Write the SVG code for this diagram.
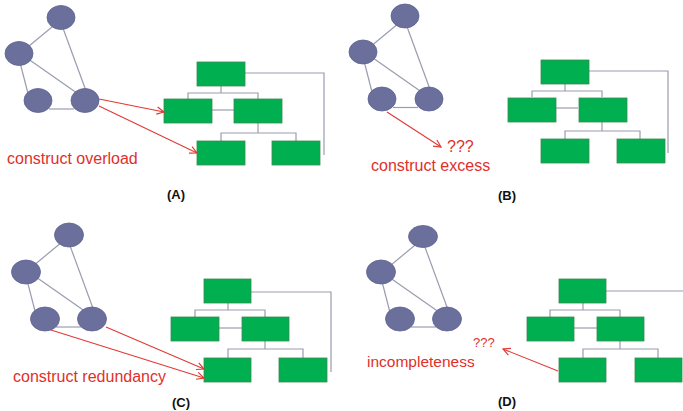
<svg xmlns="http://www.w3.org/2000/svg" width="683" height="411" viewBox="0 0 683 411">
<defs>
<style>
.n{fill:#6a6f9c;stroke:#5d6290;stroke-width:0.8}
.e{stroke:#9a9cb0;stroke-width:1.2;fill:none}
.r{fill:#00b050;stroke:#3a8a50;stroke-width:0.8}
.t{stroke:#9a9cb0;stroke-width:1.2;fill:none}
.a{stroke:#e03a34;stroke-width:1.1;fill:none;marker-end:url(#ah)}
.lbl{font-family:"Liberation Sans",Arial,sans-serif;font-size:16px;fill:#e0302a}
.cap{font-family:"Liberation Sans",Arial,sans-serif;font-size:13px;font-weight:bold;fill:#111;text-anchor:middle}
</style>
<marker id="ah" viewBox="0 0 10 10" refX="9" refY="5" markerWidth="9" markerHeight="9" markerUnits="userSpaceOnUse" orient="auto">
<polyline points="1,1 9,5 1,9" fill="none" stroke="#e03a34" stroke-width="1.3"/>
</marker>
</defs>
<rect width="683" height="411" fill="#fff"/>

<!-- Panel A -->
<g id="graphA" transform="translate(19,17.5)">
<g class="edges">
<line class="e" x1="36" y1="7" x2="7" y2="31"/>
<line class="e" x1="43" y1="8" x2="68" y2="76"/>
<line class="e" x1="1" y1="45" x2="9" y2="76"/>
<line class="e" x1="10" y1="42" x2="60" y2="77"/>
<line class="e" x1="30" y1="91.5" x2="55" y2="91.5"/>
</g>
<g id="A_T"><ellipse class="n" cx="42" cy="0" rx="14" ry="12"/></g>
<g id="A_L"><ellipse class="n" cx="0" cy="36" rx="14" ry="12"/></g>
<g id="A_BL"><ellipse class="n" cx="19" cy="83" rx="14" ry="12"/></g>
<g id="A_BR"><ellipse class="n" cx="66" cy="83" rx="14" ry="12"/></g>
</g>
<g id="treeA" transform="translate(164,62)">
<g class="edges">
<polyline class="t" points="57,24 57,31"/>
<polyline class="t" points="24,37 24,31 94,31 94,37"/>
<line class="t" x1="48" y1="48" x2="70" y2="48"/>
<polyline class="t" points="94,61 94,71"/>
<polyline class="t" points="57,79 57,71 132,71 132,79"/>
<polyline class="t" points="81,11 160,11 160,93"/>
</g>
<g id="A_R0"><rect class="r" x="33" y="0" width="48" height="24"/></g>
<g id="A_R1"><rect class="r" x="0" y="37" width="48" height="24"/></g>
<g id="A_R2"><rect class="r" x="70" y="37" width="48" height="24"/></g>
<g id="A_R3"><rect class="r" x="33" y="79" width="48" height="24"/></g>
<g id="A_R4"><rect class="r" x="108" y="79" width="48" height="24"/></g>
</g>

<!-- Panel B -->
<g id="graphB" transform="translate(363,16)">
<g class="edges">
<line class="e" x1="36" y1="7" x2="7" y2="31"/>
<line class="e" x1="43" y1="8" x2="68" y2="76"/>
<line class="e" x1="1" y1="45" x2="9" y2="76"/>
<line class="e" x1="10" y1="42" x2="60" y2="77"/>
<line class="e" x1="30" y1="91.5" x2="55" y2="91.5"/>
</g>
<g id="B_T"><ellipse class="n" cx="42" cy="0" rx="14" ry="12"/></g>
<g id="B_L"><ellipse class="n" cx="0" cy="36" rx="14" ry="12"/></g>
<g id="B_BL"><ellipse class="n" cx="19" cy="83" rx="14" ry="12"/></g>
<g id="B_BR"><ellipse class="n" cx="66" cy="83" rx="14" ry="12"/></g>
</g>
<g id="treeB" transform="translate(508,60)">
<g class="edges">
<polyline class="t" points="57,24 57,31"/>
<polyline class="t" points="24,37 24,31 94,31 94,37"/>
<line class="t" x1="48" y1="48" x2="70" y2="48"/>
<polyline class="t" points="94,61 94,71"/>
<polyline class="t" points="57,79 57,71 132,71 132,79"/>
<polyline class="t" points="81,11 160,11 160,93"/>
</g>
<g id="B_R0"><rect class="r" x="33" y="0" width="48" height="24"/></g>
<g id="B_R1"><rect class="r" x="0" y="38" width="48" height="24"/></g>
<g id="B_R2"><rect class="r" x="71" y="38" width="48" height="24"/></g>
<g id="B_R3"><rect class="r" x="33" y="79" width="48" height="24"/></g>
<g id="B_R4"><rect class="r" x="109" y="79" width="48" height="24"/></g>
</g>

<!-- Panel C -->
<g id="graphC" transform="translate(26,235)">
<g class="edges">
<line class="e" x1="36" y1="7" x2="7" y2="31"/>
<line class="e" x1="43" y1="8" x2="68" y2="76"/>
<line class="e" x1="1" y1="45" x2="9" y2="76"/>
<line class="e" x1="10" y1="42" x2="60" y2="77"/>
<line class="e" x1="30" y1="92" x2="55" y2="92"/>
</g>
<g id="C_T"><ellipse class="n" cx="43" cy="0" rx="14.5" ry="12"/></g>
<g id="C_L"><ellipse class="n" cx="0" cy="37" rx="14.5" ry="12"/></g>
<g id="C_BL"><ellipse class="n" cx="19" cy="84" rx="14.5" ry="12"/></g>
<g id="C_BR"><ellipse class="n" cx="66" cy="84" rx="14.5" ry="12"/></g>
</g>
<g id="treeC" transform="translate(171,279)">
<g class="edges">
<polyline class="t" points="57,24 57,31"/>
<polyline class="t" points="24,38 24,31 94,31 94,38"/>
<line class="t" x1="48" y1="49" x2="71" y2="49"/>
<polyline class="t" points="94,62 94,70"/>
<polyline class="t" points="57,79 57,70 132,70 132,79"/>
<polyline class="t" points="80,13 160,13 160,93"/>
</g>
<g id="C_R0"><rect class="r" x="33" y="0" width="47" height="24"/></g>
<g id="C_R1"><rect class="r" x="0" y="38" width="48" height="24"/></g>
<g id="C_R2"><rect class="r" x="71" y="38" width="47" height="24"/></g>
<g id="C_R3"><rect class="r" x="33" y="79" width="47" height="24"/></g>
<g id="C_R4"><rect class="r" x="108" y="79" width="48" height="24"/></g>
</g>

<!-- Panel D -->
<g id="graphD" transform="translate(381,236.5)">
<g class="edges">
<line class="e" x1="36" y1="7" x2="7" y2="31"/>
<line class="e" x1="43" y1="8" x2="68" y2="76"/>
<line class="e" x1="1" y1="45" x2="9" y2="76"/>
<line class="e" x1="10" y1="42" x2="60" y2="77"/>
<line class="e" x1="30" y1="90.5" x2="55" y2="90.5"/>
</g>
<g id="D_T"><ellipse class="n" cx="42" cy="0" rx="14.5" ry="11"/></g>
<g id="D_L"><ellipse class="n" cx="0" cy="35.5" rx="14.5" ry="12"/></g>
<g id="D_BL"><ellipse class="n" cx="19" cy="82.5" rx="14.5" ry="12"/></g>
<g id="D_BR"><ellipse class="n" cx="66" cy="82.5" rx="14.5" ry="12"/></g>
</g>
<g id="treeD" transform="translate(527,279)">
<g class="edges">
<polyline class="t" points="56,24 56,31"/>
<polyline class="t" points="23,38 23,31 93,31 93,38"/>
<line class="t" x1="47" y1="49" x2="70" y2="49"/>
<polyline class="t" points="93,62 93,70"/>
<polyline class="t" points="56,79 56,70 131,70 131,79"/>
<polyline class="t" points="79,12 160,12"/>
</g>
<g id="D_R0"><rect class="r" x="32" y="0" width="47" height="24"/></g>
<g id="D_R1"><rect class="r" x="0" y="38" width="47" height="24"/></g>
<g id="D_R2"><rect class="r" x="70" y="38" width="47" height="24"/></g>
<g id="D_R3"><rect class="r" x="32" y="79" width="47" height="24"/></g>
<g id="D_R4"><rect class="r" x="108" y="79" width="47" height="24"/></g>
</g>

<!-- Red mapping arrows -->
<g id="connectors">
<line class="a" x1="99" y1="99" x2="164" y2="112"/>
<line class="a" x1="99" y1="106" x2="197" y2="153"/>
<line class="a" x1="387" y1="112" x2="441" y2="147"/>
<line class="a" x1="51" y1="330" x2="204" y2="378"/>
<line class="a" x1="106" y1="327" x2="204" y2="369"/>
<line class="a" x1="558" y1="371" x2="503" y2="349"/>
</g>

<!-- Labels -->
<text class="lbl" x="7" y="164">construct overload</text>
<text class="lbl" x="447" y="152">???</text>
<text class="lbl" x="371" y="171">construct excess</text>
<text class="lbl" x="13" y="382">construct redundancy</text>
<text class="lbl" x="473" y="347" style="font-size:13px">???</text>
<text class="lbl" x="367" y="367" style="font-size:15.5px">incompleteness</text>

<text class="cap" x="176" y="199">(A)</text>
<text class="cap" x="507" y="200">(B)</text>
<text class="cap" x="181" y="407">(C)</text>
<text class="cap" x="507" y="406">(D)</text>
</svg>
